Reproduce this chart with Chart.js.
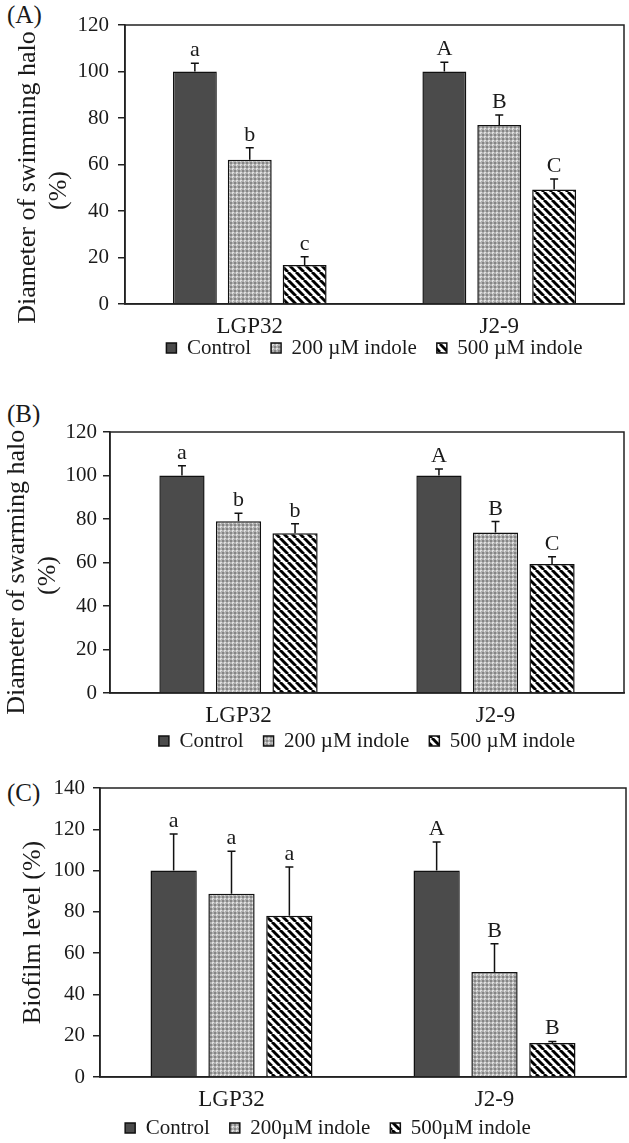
<!DOCTYPE html>
<html lang="en">
<head>
  <meta charset="UTF-8">
  <title>Indole effects on motility and biofilm</title>
  <script src="https://cdn.jsdelivr.net/npm/chart.js"></script>
  <style>
    html, body {
      margin: 0;
      padding: 0;
      background: #fff;
      width: 629px;
      height: 1143px;
      overflow: hidden;
    }
    .panel {
      position: absolute;
      left: 0;
    }
    .tag {
      position: absolute;
      left: 7px;
      font-family: "Liberation Serif", serif;
      font-size: 25px;
      color: #1a1a1a;
      line-height: 1;
    }
  </style>
</head>
<body>
<div class="tag" style="top:2px">(A)</div>
<div class="tag" style="top:401px">(B)</div>
<div class="tag" style="top:780px">(C)</div>

<div class="panel" style="top:0px"><canvas id="swimChart" width="629" height="391"></canvas></div>
<div class="panel" style="top:370px"><canvas id="swarmChart" width="629" height="410"></canvas></div>
<div class="panel" style="top:762px"><canvas id="biofilmChart" width="629" height="402"></canvas></div>

<script>
  const strains = ['LGP32', 'J2-9'];

  // (A) swimming halo diameter (%)
  const swimControl = [100, 100];
  const swim200 = [62, 77];
  const swim500 = [16.8, 49.3];
  const swimControlErr = [3.5, 4.0];
  const swim200Err = [5.2, 4.3];
  const swim500Err = [3.5, 4.5];
  const swimLetters = [['a', 'A'], ['b', 'B'], ['c', 'C']];

  // (B) swarming halo diameter (%)
  const swarmControl = [100, 100];
  const swarm200 = [79, 73.8];
  const swarm500 = [73.4, 59.3];
  const swarmControlErr = [4.5, 3.0];
  const swarm200Err = [3.6, 5.0];
  const swarm500Err = [4.4, 3.4];
  const swarmLetters = [['a', 'A'], ['b', 'B'], ['b', 'C']];

  // (C) biofilm level (%)
  const bioControl = [100, 100];
  const bio200 = [88.8, 50.9];
  const bio500 = [78.1, 16.5];
  const bioControlErr = [17.7, 13.8];
  const bio200Err = [20.5, 13.7];
  const bio500Err = [23.6, 0.7];
  const bioLetters = [['a', 'A'], ['a', 'B'], ['a', 'B']];

  const serif = '"Liberation Serif", "Times New Roman", serif';
  const ink = '#1a1a1a';

  // fill patterns
  function dotPattern() {
    const c = document.createElement('canvas');
    c.width = 4; c.height = 4;
    const g = c.getContext('2d');
    g.fillStyle = '#b0b0b0';
    g.fillRect(0, 0, 4, 4);
    g.fillStyle = '#e2e2e2';
    g.fillRect(0, 0, 2, 1);
    g.fillRect(0, 0, 1, 2);
    g.fillStyle = '#858585';
    g.fillRect(2, 2, 2, 2);
    return g.createPattern(c, 'repeat');
  }

  function stripePattern() {
    const c = document.createElement('canvas');
    c.width = 8; c.height = 8;
    const g = c.getContext('2d');
    g.fillStyle = '#fff';
    g.fillRect(0, 0, 8, 8);
    g.strokeStyle = '#000';
    g.lineWidth = 2.9;
    g.beginPath();
    [-8, 0, 8].forEach(o => {
      g.moveTo(o, 0);
      g.lineTo(o + 8, 8);
    });
    g.stroke();
    return g.createPattern(c, 'repeat');
  }

  const fills = ['#4b4b4b', dotPattern(), stripePattern()];

  // box around the plotting area
  const framePlugin = {
    id: 'frame',
    beforeDatasetsDraw(chart) {
      const a = chart.chartArea;
      const ctx = chart.ctx;
      ctx.save();
      ctx.strokeStyle = '#222';
      ctx.lineWidth = 1.5;
      ctx.strokeRect(a.left, a.top, a.right - a.left, a.bottom - a.top);
      ctx.restore();
    }
  };

  // pull the legend up closer to the category labels
  const liftLegend = {
    id: 'liftLegend',
    afterLayout(chart, args, opts) {
      const l = chart.legend;
      if (!l) return;
      l.top -= opts.lift;
      l.bottom -= opts.lift;
    }
  };

  // upper error bars with significance letters
  const errorPlugin = {
    id: 'errors',
    afterDatasetsDraw(chart) {
      const ctx = chart.ctx;
      const y = chart.scales.y;
      ctx.save();
      ctx.strokeStyle = '#111';
      ctx.lineWidth = 1.5;
      ctx.fillStyle = ink;
      ctx.font = '22px ' + serif;
      ctx.textAlign = 'center';
      ctx.textBaseline = 'alphabetic';
      chart.data.datasets.forEach((ds, i) => {
        chart.getDatasetMeta(i).data.forEach((bar, j) => {
          const top = y.getPixelForValue(ds.data[j] + ds.errors[j]);
          ctx.beginPath();
          ctx.moveTo(bar.x, bar.y);
          ctx.lineTo(bar.x, top);
          ctx.moveTo(bar.x - 4, top);
          ctx.lineTo(bar.x + 4, top);
          ctx.stroke();
          ctx.fillText(ds.letters[j], bar.x, top - 7);
        });
      });
      ctx.restore();
    }
  };

  function makeChart(id, cfg) {
    const series = [
      {label: cfg.names[0], data: cfg.values[0], errors: cfg.errors[0], letters: cfg.letters[0]},
      {label: cfg.names[1], data: cfg.values[1], errors: cfg.errors[1], letters: cfg.letters[1]},
      {label: cfg.names[2], data: cfg.values[2], errors: cfg.errors[2], letters: cfg.letters[2]}
    ].map((s, k) => Object.assign(s, {
      backgroundColor: fills[k],
      borderColor: '#111',
      borderWidth: 1.5,
      categoryPercentage: 0.66,
      barPercentage: 0.8
    }));

    return new Chart(document.getElementById(id), {
      type: 'bar',
      data: {labels: strains, datasets: series},
      options: {
        responsive: false,
        animation: false,
        devicePixelRatio: 1,
        layout: {padding: {top: cfg.padTop, right: cfg.padRight, bottom: 0, left: cfg.padLeft}},
        plugins: {
          tooltip: {enabled: false},
          liftLegend: {lift: cfg.lift},
          legend: {
            position: 'bottom',
            fullSize: cfg.legendFull,
            labels: {
              boxWidth: 10,
              boxHeight: 10,
              padding: 20,
              color: ink,
              font: {family: serif, size: 21}
            }
          }
        },
        scales: {
          x: {
            grid: {display: false, drawTicks: false},
            border: {color: '#222', width: 1.5},
            ticks: {color: ink, padding: 9, font: {family: serif, size: 23}},
            afterFit(s) { s.height = 36; }
          },
          y: {
            min: 0,
            max: cfg.yMax,
            ticks: {stepSize: 20, color: ink, padding: cfg.tickPad, font: {family: serif, size: 21}},
            grid: {drawOnChartArea: false, drawTicks: true, tickLength: 7, color: '#222', lineWidth: 1.5},
            border: {color: '#222', width: 1.5},
            title: {
              display: true,
              text: cfg.yTitle,
              color: ink,
              font: {family: serif, size: 26, lineHeight: 1.22},
              padding: {top: cfg.titlePad, bottom: 0}
            },
            afterFit(s) { s.width = cfg.axisWidth; }
          }
        }
      },
      plugins: [framePlugin, errorPlugin, liftLegend]
    });
  }

  makeChart('swimChart', {
    names: ['Control', '200 µM indole', '500 µM indole'],
    values: [swimControl, swim200, swim500],
    errors: [swimControlErr, swim200Err, swim500Err],
    letters: swimLetters,
    yMax: 120,
    yTitle: ['Diameter of swimming halo    ', '(%)        '],
    padTop: 25, padRight: 5, padLeft: 0, axisWidth: 125, tickPad: 9, titlePad: 12,
    lift: 22.5, legendFull: false
  });

  makeChart('swarmChart', {
    names: ['Control', '200 µM indole', '500 µM indole'],
    values: [swarmControl, swarm200, swarm500],
    errors: [swarmControlErr, swarm200Err, swarm500Err],
    letters: swarmLetters,
    yMax: 120,
    yTitle: ['Diameter of swarming halo   ', '(%)    '],
    padTop: 62, padRight: 5, padLeft: 0, axisWidth: 110, tickPad: 6, titlePad: 1,
    lift: 18.5, legendFull: false
  });

  makeChart('biofilmChart', {
    names: ['Control', '200µM indole', '500µM indole'],
    values: [bioControl, bio200, bio500],
    errors: [bioControlErr, bio200Err, bio500Err],
    letters: bioLetters,
    yMax: 140,
    yTitle: 'Biofilm level (%)',
    padTop: 26, padRight: 3, padLeft: 30, axisWidth: 70, tickPad: 8, titlePad: -13,
    lift: 15.5, legendFull: true
  });
</script>
</body>
</html>
